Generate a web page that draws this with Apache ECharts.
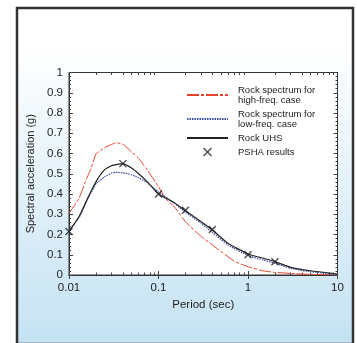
<!DOCTYPE html>
<html><head><meta charset="utf-8">
<script src="https://cdn.jsdelivr.net/npm/echarts@6/dist/echarts.min.js"></script>
<style>html,body{margin:0;padding:0;background:#fff}#c{width:357px;height:343px}</style>
</head><body><div id="c"></div>
<script>
// ---- data ----
const uhsPeriods = [0.01,0.013,0.016,0.02,0.025,0.03,0.04,0.05,0.06,0.075,0.1,0.15,0.2,0.3,0.4,0.6,1,1.5,2,3,5,10];
const uhsValues  = [0.214,0.29,0.375,0.46,0.52,0.54,0.55,0.528,0.50,0.46,0.40,0.357,0.317,0.263,0.222,0.156,0.104,0.082,0.066,0.038,0.021,0.005];
const highPeriods = [0.01,0.013,0.0155,0.0176,0.02,0.025,0.03,0.0336,0.04,0.05,0.06,0.075,0.1,0.12,0.15,0.2,0.3,0.4,0.7,1,1.5,2,3,5,10];
const highValues  = [0.305,0.38,0.47,0.525,0.597,0.628,0.645,0.653,0.646,0.608,0.576,0.518,0.436,0.378,0.337,0.263,0.19,0.148,0.069,0.041,0.02,0.013,0.008,0.003,0.001];
const lowPeriods = [0.01,0.013,0.016,0.02,0.025,0.03,0.0336,0.04,0.05,0.06,0.075,0.1,0.15,0.2,0.3,0.4,0.6,1,1.5,2,3,5,10];
const lowValues  = [0.22,0.285,0.37,0.45,0.485,0.503,0.507,0.505,0.495,0.48,0.455,0.41,0.355,0.31,0.255,0.21,0.148,0.096,0.073,0.058,0.033,0.016,0.003];
const psPeriods = [0.01,0.04,0.1,0.2,0.4,1,2];
const psValues  = [0.215,0.55,0.40,0.32,0.225,0.10,0.065];
const xTickLabels = ['0.01','0.1','1','10'];
const minorPeriods = [0.02,0.03,0.04,0.05,0.06,0.07,0.08,0.09,0.2,0.3,0.4,0.5,0.6,0.7,0.8,0.9,2,3,4,5,6,7,8,9];
const seriesNames = ['Rock spectrum for\nhigh-freq. case','Rock spectrum for\nlow-freq. case','Rock UHS','PSHA results'];

const zip = (a,b) => a.map((v,i)=>[v,b[i]]);
const FONT = 'Liberation Sans, Arial, sans-serif';
const minorLog = minorPeriods.map(p => Math.log10(p));

const chart = echarts.init(document.getElementById('c'), null, {renderer:'canvas'});
const xTickBase = {show:true, inside:true, length:4, lineStyle:{color:'#444', width:1}};
const minorXAxis = (pos) => ({
  type:'value', min:-2, max:1, position:pos, gridIndex:0,
  axisLine:{show:false}, splitLine:{show:false}, axisLabel:{show:false},
  axisTick:{show:true, inside:true, length:2.5, customValues:minorLog, lineStyle:{color:'#444', width:1}}
});
chart.setOption({
  animation:false,
  graphic:[{type:'rect', z:-100, shape:{x:17, y:8, width:336, height:336},
    style:{fill:new echarts.graphic.LinearGradient(0,0,0,1,[
      {offset:0,color:'#ffffff'},{offset:0.12,color:'#ffffff'},{offset:1,color:'#c4e2f3'}]),
      stroke:'#333', lineWidth:2.5}}],
  grid:{left:69, right:19.5, top:72.5, bottom:68, show:true, backgroundColor:'#fff', borderColor:'#333', borderWidth:1},
  legend:{
    orient:'vertical', left:181, top:80, itemWidth:41, itemHeight:8, itemGap:4,
    data:seriesNames.map((n,i)=> i<3 ? {name:n, itemStyle:{opacity:0}}
      : {name:n, itemStyle:{color:'rgba(0,0,0,0)', borderColor:'#111', borderWidth:1.2}}),
    selectedMode:false,
    textStyle:{fontFamily:FONT, fontSize:9.5, lineHeight:10, color:'#222', padding:[0,0,0,5]}
  },
  xAxis:[
    {type:'log', logBase:10, min:0.01, max:10, position:'bottom',
     axisLine:{show:true, lineStyle:{color:'#333'}}, splitLine:{show:false},
     axisTick:xTickBase,
     axisLabel:{fontFamily:FONT, fontSize:11.5, color:'#222', margin:7,
       formatter:(v)=>{const i=Math.round(Math.log10(v))+2; return xTickLabels[i];}},
     name:'Period (sec)', nameLocation:'middle', nameGap:19,
     nameTextStyle:{fontFamily:FONT, fontSize:11.5, color:'#222'}},
    {type:'log', logBase:10, min:0.01, max:10, position:'top',
     axisLine:{show:true, lineStyle:{color:'#333'}}, splitLine:{show:false},
     axisTick:xTickBase, axisLabel:{show:false}},
    minorXAxis('bottom'), minorXAxis('top')
  ],
  yAxis:[
    {type:'value', min:0, max:1, interval:0.1, position:'left',
     axisLine:{show:true, onZero:false, lineStyle:{color:'#333'}}, splitLine:{show:false},
     axisTick:{show:true, inside:true, length:4, lineStyle:{color:'#444'}},
     minorTick:{show:true, splitNumber:5, length:2, lineStyle:{color:'#444'}},
     axisLabel:{fontFamily:FONT, fontSize:11.5, color:'#222', margin:6},
     name:'Spectral acceleration (g)', nameLocation:'middle', nameGap:33, nameRotate:90,
     nameTextStyle:{fontFamily:FONT, fontSize:11, color:'#222'}},
    {type:'value', min:0, max:1, interval:0.1, position:'right',
     axisLine:{show:true, onZero:false, lineStyle:{color:'#333'}}, splitLine:{show:false},
     axisTick:{show:true, inside:true, length:4, lineStyle:{color:'#444'}},
     minorTick:{show:true, splitNumber:5, length:2, lineStyle:{color:'#444'}},
     axisLabel:{show:false}}
  ],
  series:[
    {name:seriesNames[0], type:'line', xAxisIndex:0, yAxisIndex:0, data:zip(highPeriods,highValues),
     symbol:'none', smooth:0.15, color:'#e8412c', lineStyle:{color:'#e8412c', width:1, type:[12,2,3,2]}},
    {name:seriesNames[1], type:'line', xAxisIndex:0, yAxisIndex:0, data:zip(lowPeriods,lowValues),
     symbol:'none', smooth:0.15, color:'#3c4fa8', lineStyle:{color:'#3c4fa8', width:1.2, type:[1.5,1]}},
    {name:seriesNames[2], type:'line', xAxisIndex:0, yAxisIndex:0, data:zip(uhsPeriods,uhsValues),
     symbol:'none', smooth:0.15, color:'#222', lineStyle:{color:'#222', width:1.2}, z:3},
    {name:seriesNames[3], type:'scatter', xAxisIndex:0, yAxisIndex:0, data:zip(psPeriods,psValues),
     symbol:'path://M0,0L10,10M10,0L0,10', symbolSize:7, z:4,
     itemStyle:{color:'rgba(0,0,0,0)', borderColor:'#222', borderWidth:1.4}}
  ]
});
</script></body></html>
